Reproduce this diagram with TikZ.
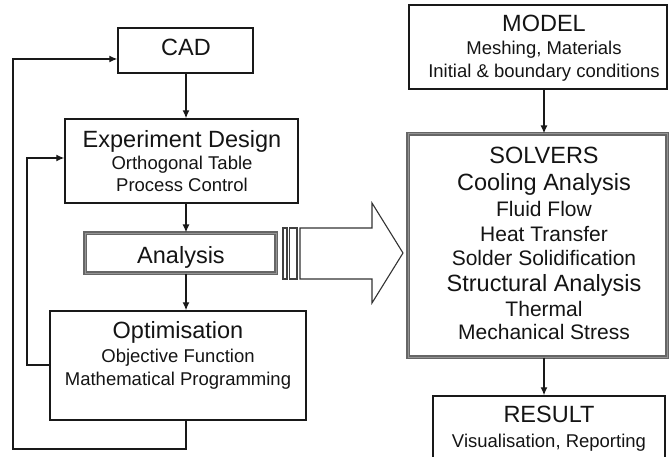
\documentclass[tikz,border=0pt]{standalone}
\usepackage{fontspec}
\setmainfont{Liberation Sans}
\usetikzlibrary{arrows.meta}
\begin{document}
\begin{tikzpicture}[x=1pt,y=-1pt,
  plainbox/.style={draw=black!90, line width=1.4pt, inner sep=0pt},
  greybox/.style={draw=black!60, double=black!42, double distance=1pt, line width=1.1pt, inner sep=0pt},
  conn/.style={draw=black!90, line width=1.3pt, line join=miter},
  arr/.style={conn, -{Latex[length=8pt,width=7pt]}},
  big/.style={font=\fontsize{23.5}{28}\selectfont, anchor=base, inner sep=0pt, text=black!92},
  mid/.style={font=\fontsize{21}{25}\selectfont, anchor=base, inner sep=0pt, text=black!92},
  small/.style={font=\fontsize{18.5}{22}\selectfont, anchor=base, inner sep=0pt, text=black!92}]

\path[use as bounding box] (0,0) rectangle (669,457);

% left column: design loop
\node[plainbox, minimum width=135pt, minimum height=45pt]  (cad)   at (185.5,50.5) {};
\node[plainbox, minimum width=233pt, minimum height=84pt]  (exp)   at (181.5,161) {};
\node[greybox,  minimum width=191pt, minimum height=40pt]  (ana)   at (180.5,253) {};
\node[plainbox, minimum width=256pt, minimum height=109pt] (opt)   at (178,365.5) {};

% right column: simulation chain
\node[plainbox, minimum width=258pt, minimum height=84pt]  (model) at (538,47) {};
\node[greybox,  minimum width=259pt, minimum height=223pt] (solv)  at (537.5,245.5) {};
\node[plainbox, minimum width=232pt, minimum height=62pt]  (res)   at (549,427) {};

% texts
\node[big]   (cadT) at (186,56)  {CAD};
\node[big]   (expT) at (182,148) {Experiment Design};
\node[small] (expA) at (182,170) {Orthogonal Table};
\node[small] (expB) at (182,192) {Process Control};
\node[big]   (anaT) at (181,263) {Analysis};
\node[big]   (optT) at (178,338) {Optimisation};
\node[small] (optA) at (178,362) {Objective Function};
\node[small] (optB) at (178,385) {Mathematical Programming};

\node[big]   (modT) at (544,32) {MODEL};
\node[small] (modA) at (544,55) {Meshing, Materials};
\node[small] (modB) at (544,78) {Initial \& boundary conditions};

\node[big] (solT) at (544,164) {SOLVERS};
\node[big] (solA) at (544,190) {Cooling Analysis};
\node[mid] (solB) at (544,216) {Fluid Flow};
\node[mid] (solC) at (544,241) {Heat Transfer};
\node[mid] (solD) at (544,265) {Solder Solidification};
\node[big] (solE) at (544,291) {Structural Analysis};
\node[mid] (solF) at (544,316) {Thermal};
\node[mid] (solG) at (544,339) {Mechanical Stress};

\node[big]   (resT) at (549,422) {RESULT};
\node[small] (resA) at (549,447) {Visualisation, Reporting};

% vertical flow arrows
\coordinate (lx) at (186,0);
\coordinate (rx) at (544,0);
\draw[arr] (cad.south -| lx) -- (exp.north -| lx);
\draw[arr] (exp.south -| lx) -- (ana.north -| lx);
\draw[arr] (ana.south -| lx) -- (opt.north -| lx);
\draw[arr] (model.south -| rx) -- (solv.north -| rx);
\draw[arr] (solv.south -| rx) -- (res.north -| rx);

% feedback loops
\coordinate (outerLow)  at (13,449);
\coordinate (outerHigh) at (13,59);
\coordinate (innerLow)  at (27,365);
\coordinate (innerHigh) at (27,158);
\draw[arr] (opt.south -| lx) -- (lx |- outerLow) -- (outerLow) -- (outerHigh) -- (cad.west |- outerHigh);
\draw[arr] (opt.west |- innerLow) -- (innerLow) -- (innerHigh) -- (exp.west |- innerHigh);

% block arrow from the analysis step to the solvers
\draw[draw=black!80, line width=1.1pt, line join=miter, fill=white]
  (300,228) -- (372,228) -- (372,203) -- (403,253) -- (372,303) -- (372,279) -- (300,279) -- cycle;
\draw[draw=black!75, line width=1.1pt] (283,228) rectangle (287,279);
\draw[draw=black!75, line width=1.1pt] (289.5,228) rectangle (297,279);
\end{tikzpicture}
\end{document}
